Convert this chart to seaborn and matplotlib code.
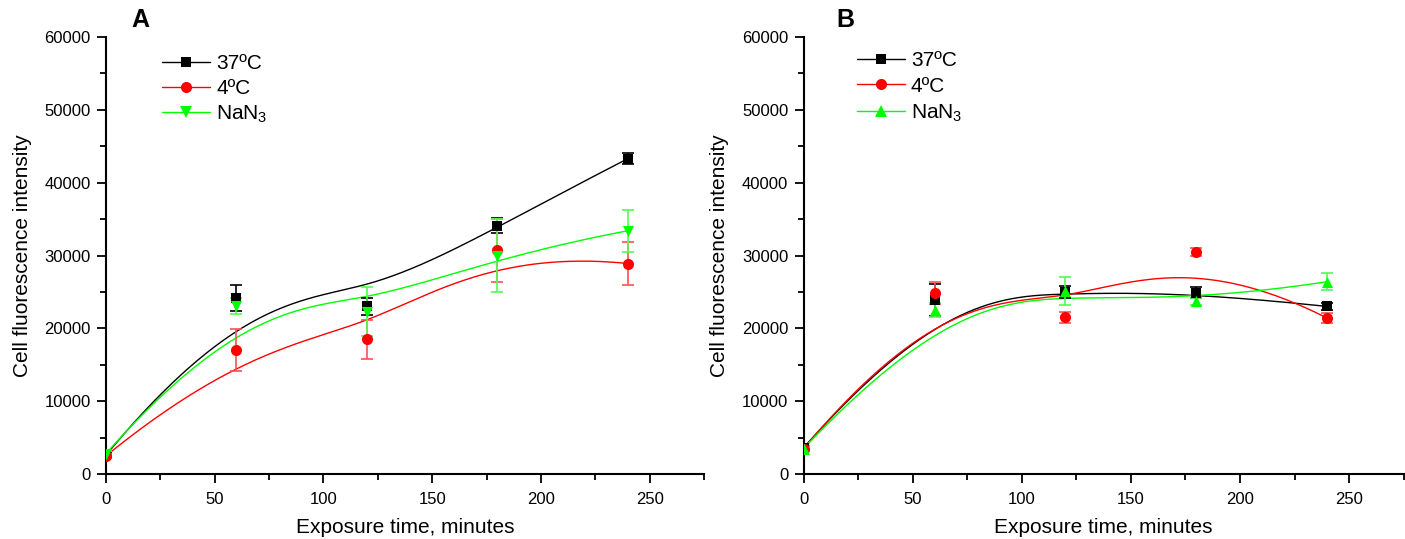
import numpy as np
import pandas as pd
import matplotlib
matplotlib.use("Agg")
import matplotlib.pyplot as plt
from matplotlib.lines import Line2D
from matplotlib.ticker import MultipleLocator
import seaborn as sns

# ---------------- data ----------------
time_min = [0, 60, 120, 180, 240]

# Panel A
a_37 = [2600, 24200, 23000, 34100, 43300]
a_37_err = [300, 1800, 1200, 1000, 800]
a_4 = [2500, 17000, 18500, 30700, 28900]
a_4_err = [300, 2900, 2700, 4300, 3000]
a_nan3 = [2800, 23000, 22300, 30000, 33400]
a_nan3_err = [300, 1100, 3400, 5000, 2900]

# Panel B
b_37 = [3600, 23900, 25000, 24900, 23000]
b_37_err = [300, 2200, 800, 800, 500]
b_4 = [3500, 24900, 21500, 30500, 21400]
b_4_err = [300, 1500, 700, 500, 700]
b_nan3 = [3500, 22500, 25100, 23700, 26400]
b_nan3_err = [300, 1000, 1900, 500, 1200]

series_labels = ["37ºC", "4ºC", "NaN$_3$"]
colors = ["#000000", "#ff0000", "#00ff00"]
err_colors = ["#000000", "#ff5050", "#50ff50"]

# ---------------- style ----------------
sns.set_theme(style="ticks")
plt.rcParams["font.family"] = ["Liberation Sans", "DejaVu Sans"]
plt.rcParams["mathtext.fontset"] = "custom"
plt.rcParams["mathtext.rm"] = "Liberation Sans"
plt.rcParams["mathtext.it"] = "Liberation Sans"
for key in ["text.color", "axes.labelcolor", "xtick.color", "ytick.color",
            "xtick.labelcolor", "ytick.labelcolor"]:
    plt.rcParams[key] = "black"


def bspline(xs, ys, n=300, k=3):
    """Clamped uniform B-spline using the data points as control points."""
    P = np.column_stack([xs, ys]).astype(float)
    m = len(P)
    inner = np.linspace(0, 1, m - k + 1)[1:-1]
    t = np.concatenate([np.zeros(k + 1), inner, np.ones(k + 1)])
    u = np.linspace(0, 1, n)
    u[-1] = 1 - 1e-12

    def N(i, p, u):
        if p == 0:
            return np.where((t[i] <= u) & (u < t[i + 1]), 1.0, 0.0)
        a = np.zeros_like(u)
        if t[i + p] != t[i]:
            a = (u - t[i]) / (t[i + p] - t[i]) * N(i, p - 1, u)
        b = np.zeros_like(u)
        if t[i + p + 1] != t[i + 1]:
            b = (t[i + p + 1] - u) / (t[i + p + 1] - t[i + 1]) * N(i + 1, p - 1, u)
        return a + b

    B = np.column_stack([N(i, k, u) for i in range(m)])
    C = B @ P
    return C[:, 0], C[:, 1]


W, H = 1405, 539
fig = plt.figure(figsize=(W / 100, H / 100), dpi=100)

panels = [
    dict(rect=(106, 37, 704, 474), label="A", lab_x=140,
         data=[(a_37, a_37_err), (a_4, a_4_err), (a_nan3, a_nan3_err)],
         markers=["s", "o", "v"], leg_anchor=(56 / 598, 0.96), lsp=0.27),
    dict(rect=(803.6, 37, 1403.6, 474), label="B", lab_x=845,
         data=[(b_37, b_37_err), (b_4, b_4_err), (b_nan3, b_nan3_err)],
         markers=["s", "o", "^"], leg_anchor=(53 / 600, 0.968), lsp=0.32),
]

msizes = {"s": 7.2, "o": 8.0, "v": 8.0, "^": 8.0}

for p in panels:
    l, t_, r, b = p["rect"]
    ax = fig.add_axes([l / W, (H - b) / H, (r - l) / W, (b - t_) / H])
    handles = []
    for (vals, errs), col, ecol, mk, lab in zip(p["data"], colors, err_colors,
                                                 p["markers"], series_labels):
        cx, cy = bspline(time_min, vals)
        curve = pd.DataFrame({"x": cx, "y": cy})
        sns.lineplot(data=curve, x="x", y="y", ax=ax, color=col, lw=1.0,
                     sort=False, estimator=None)
        ax.errorbar(time_min, vals, yerr=errs, fmt="none", ecolor=ecol,
                    elinewidth=1.2, capsize=4.5, capthick=1.2, zorder=3)
        pts = pd.DataFrame({"x": time_min, "y": vals})
        sns.scatterplot(data=pts, x="x", y="y", ax=ax, color=col, marker=mk,
                        s=msizes[mk] ** 2, linewidth=0, zorder=4)
        handles.append(Line2D([], [], color=col, lw=1.0, marker=mk,
                              markersize=msizes[mk], markeredgewidth=0,
                              label=lab))

    ax.set_xlim(0, 275)
    ax.set_ylim(0, 60000)
    ax.xaxis.set_major_locator(MultipleLocator(50))
    ax.xaxis.set_minor_locator(MultipleLocator(25))
    ax.yaxis.set_major_locator(MultipleLocator(10000))
    ax.yaxis.set_minor_locator(MultipleLocator(5000))
    ax.tick_params(which="major", direction="out", length=6.5, width=1.3,
                   labelsize=12, color="black", labelcolor="black")
    ax.tick_params(axis="x", which="major", pad=6.3)
    ax.tick_params(axis="y", which="major", pad=4.5)
    ax.tick_params(which="minor", direction="out", length=4, width=1.3,
                   color="black")
    for s in ["top", "right"]:
        ax.spines[s].set_visible(False)
    for s in ["left", "bottom"]:
        ax.spines[s].set_linewidth(1.5)
        ax.spines[s].set_color("black")
    ax.set_xlabel("Exposure time, minutes", fontsize=15, labelpad=8,
                  color="black")
    ax.set_ylabel("Cell fluorescence intensity", fontsize=15, labelpad=9,
                  color="black")
    ax.legend(handles=handles, loc="upper left",
              bbox_to_anchor=p["leg_anchor"], frameon=False, fontsize=15,
              handlelength=2.3, handletextpad=0.3, labelspacing=p["lsp"],
              borderpad=0, borderaxespad=0, labelcolor="black")
    fig.text(p["lab_x"] / W, 1 - 20 / H, p["label"], fontsize=18,
             fontweight="bold", ha="center", va="center", color="black")

fig.savefig("out.png", dpi=100)
